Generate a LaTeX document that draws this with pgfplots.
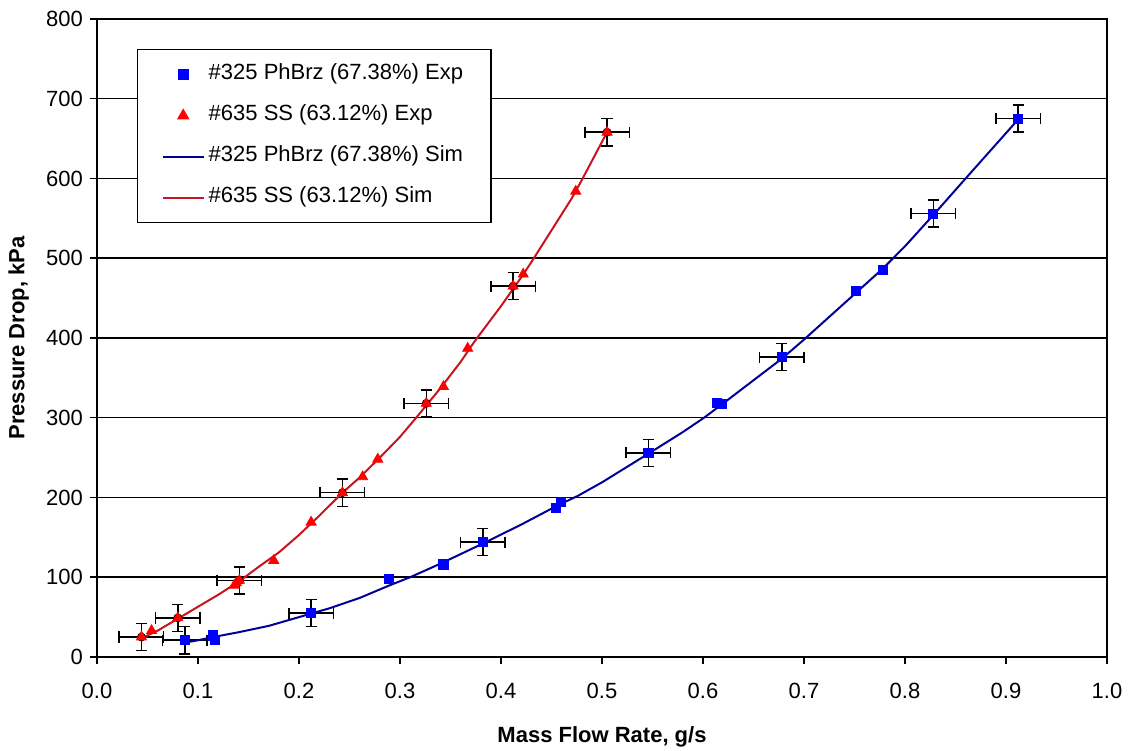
\documentclass[border=0pt]{standalone}
\usepackage{fontspec}
\setmainfont{Liberation Sans}
\usepackage{pgfplots}
\pgfplotsset{compat=1.18}
\definecolor{expblue}{RGB}{0,0,255}
\definecolor{expred}{RGB}{255,0,0}
\definecolor{simblue}{RGB}{0,0,150}
\definecolor{simred}{RGB}{200,20,30}

\pgfplotstableread{
x y
0.087 21
0.115 27
0.117 21
0.212 55
0.289 98
0.343 116
0.382 144
0.454 187
0.459 194
0.546 256
0.614 319
0.619 317
0.678 376
0.751 459
0.778 485
0.828 556
0.912 675
}\blueexp

\pgfplotstableread{
x y
0.044 25
0.054 33
0.080 49
0.136 90
0.138 93
0.141 96
0.175 121
0.212 169
0.243 206
0.263 226
0.278 248
0.326 318
0.343 339
0.367 387
0.412 465
0.422 480
0.474 584
0.505 658
}\redexp

\pgfplotstableread{
x y ex ey
0.087 21 0.022 17
0.212 55 0.022 17
0.382 144 0.022 17
0.546 256 0.022 17
0.678 376 0.022 17
0.828 556 0.022 17
0.912 675 0.022 17
0.044 25 0.022 17
0.080 49 0.022 17
0.141 96 0.022 17
0.243 206 0.022 17
0.326 318 0.022 17
0.412 465 0.022 17
0.505 658 0.022 17
}\errs

\pgfplotstableread{
x y
0.087 18
0.100 21
0.115 25
0.140 31
0.170 39
0.200 50
0.230 61
0.260 74
0.290 90
0.310 100
0.340 117
0.380 141
0.420 166
0.456 190
0.476 202
0.500 219
0.546 255
0.580 282
0.601 300
0.620 318
0.650 347
0.678 374
0.700 398
0.750 455
0.778 487
0.800 515
0.830 557
0.860 600
0.912 674
}\bluesim

\pgfplotstableread{
x y
0.045 24
0.060 33
0.080 48
0.100 63
0.120 78
0.141 95
0.160 113
0.180 131
0.200 153
0.220 177
0.243 206
0.260 225
0.280 250
0.300 276
0.316 300
0.340 337
0.360 370
0.374 396
0.400 440
0.420 476
0.430 495
0.450 535
0.470 575
0.480 598
0.505 658
}\redsim

\begin{document}
\begin{tikzpicture}
\begin{axis}[
  name=ax,
  scale only axis,
  width=505pt, height=319pt,
  xmin=0, xmax=1, ymin=0, ymax=800,
  xtick={0,0.1,0.2,0.3,0.4,0.5,0.6,0.7,0.8,0.9,1.0},
  ytick={0,100,200,300,400,500,600,700,800},
  xticklabel style={yshift=-6pt, /pgf/number format/.cd, fixed, fixed zerofill, precision=1},
  /pgf/number format/assume math mode=true,
  font=\fontsize{11}{13}\selectfont,
  ymajorgrids,
  major grid style={black, line width=0.75pt},
  axis line style={black, line width=1pt},
  tick pos=left,
  tick align=outside,
  major tick length=3.5pt,
  tick style={black, line width=0.75pt},
  xlabel={\textbf{Mass Flow Rate, g/s}},
  ylabel={\textbf{Pressure Drop, kPa}},
  xlabel style={at={(axis description cs:0.5,-0.1254)}, anchor=center},
  ylabel style={at={(axis description cs:-0.0775,0.5)}, anchor=center},
  legend style={at={(axis description cs:0.0396,0.953)}, anchor=north west,
    draw=black, line width=0.75pt, fill=white,
    inner xsep=12pt, inner ysep=5.5pt, row sep=6.5pt,
    nodes={inner sep=2pt, text height=0.75em, text depth=0.25em,
      font=\fontsize{11}{13}\selectfont}},
  legend cell align=left,
  legend image code/.code={\draw[mark repeat=2, mark phase=2, #1]
     plot coordinates {(0pt,0pt) (10.25pt,0pt) (20.5pt,0pt)};},
]
\addplot[forget plot, only marks, mark=none,
  error bars/.cd, x dir=both, y dir=both, x explicit, y explicit,
  error bar style={draw=black, solid, line width=0.75pt},
  error mark options={rotate=90, draw=black, solid, mark size=2.8pt, line width=0.75pt}]
  table[x=x, y=y, x error=ex, y error=ey] {\errs};
\addplot[only marks, mark=square*, mark size=2.3pt, color=expblue] table {\blueexp};
\addlegendentry{\#325 PhBrz (67.38\%) Exp}
\addplot[only marks, mark=triangle*, mark size=2.9pt, color=expred] table {\redexp};
\addlegendentry{\#635 SS (63.12\%) Exp}
\addplot[no marks, color=simblue, line width=1pt] table {\bluesim};
\addlegendentry{\#325 PhBrz (67.38\%) Sim}
\addplot[no marks, color=simred, line width=1pt] table {\redsim};
\addlegendentry{\#635 SS (63.12\%) Sim}
\end{axis}
\pgfresetboundingbox
\path ([shift={(-48.5pt,-47pt)}]ax.south west) rectangle ([shift={(13pt,9.5pt)}]ax.north east);
\end{tikzpicture}
\end{document}
